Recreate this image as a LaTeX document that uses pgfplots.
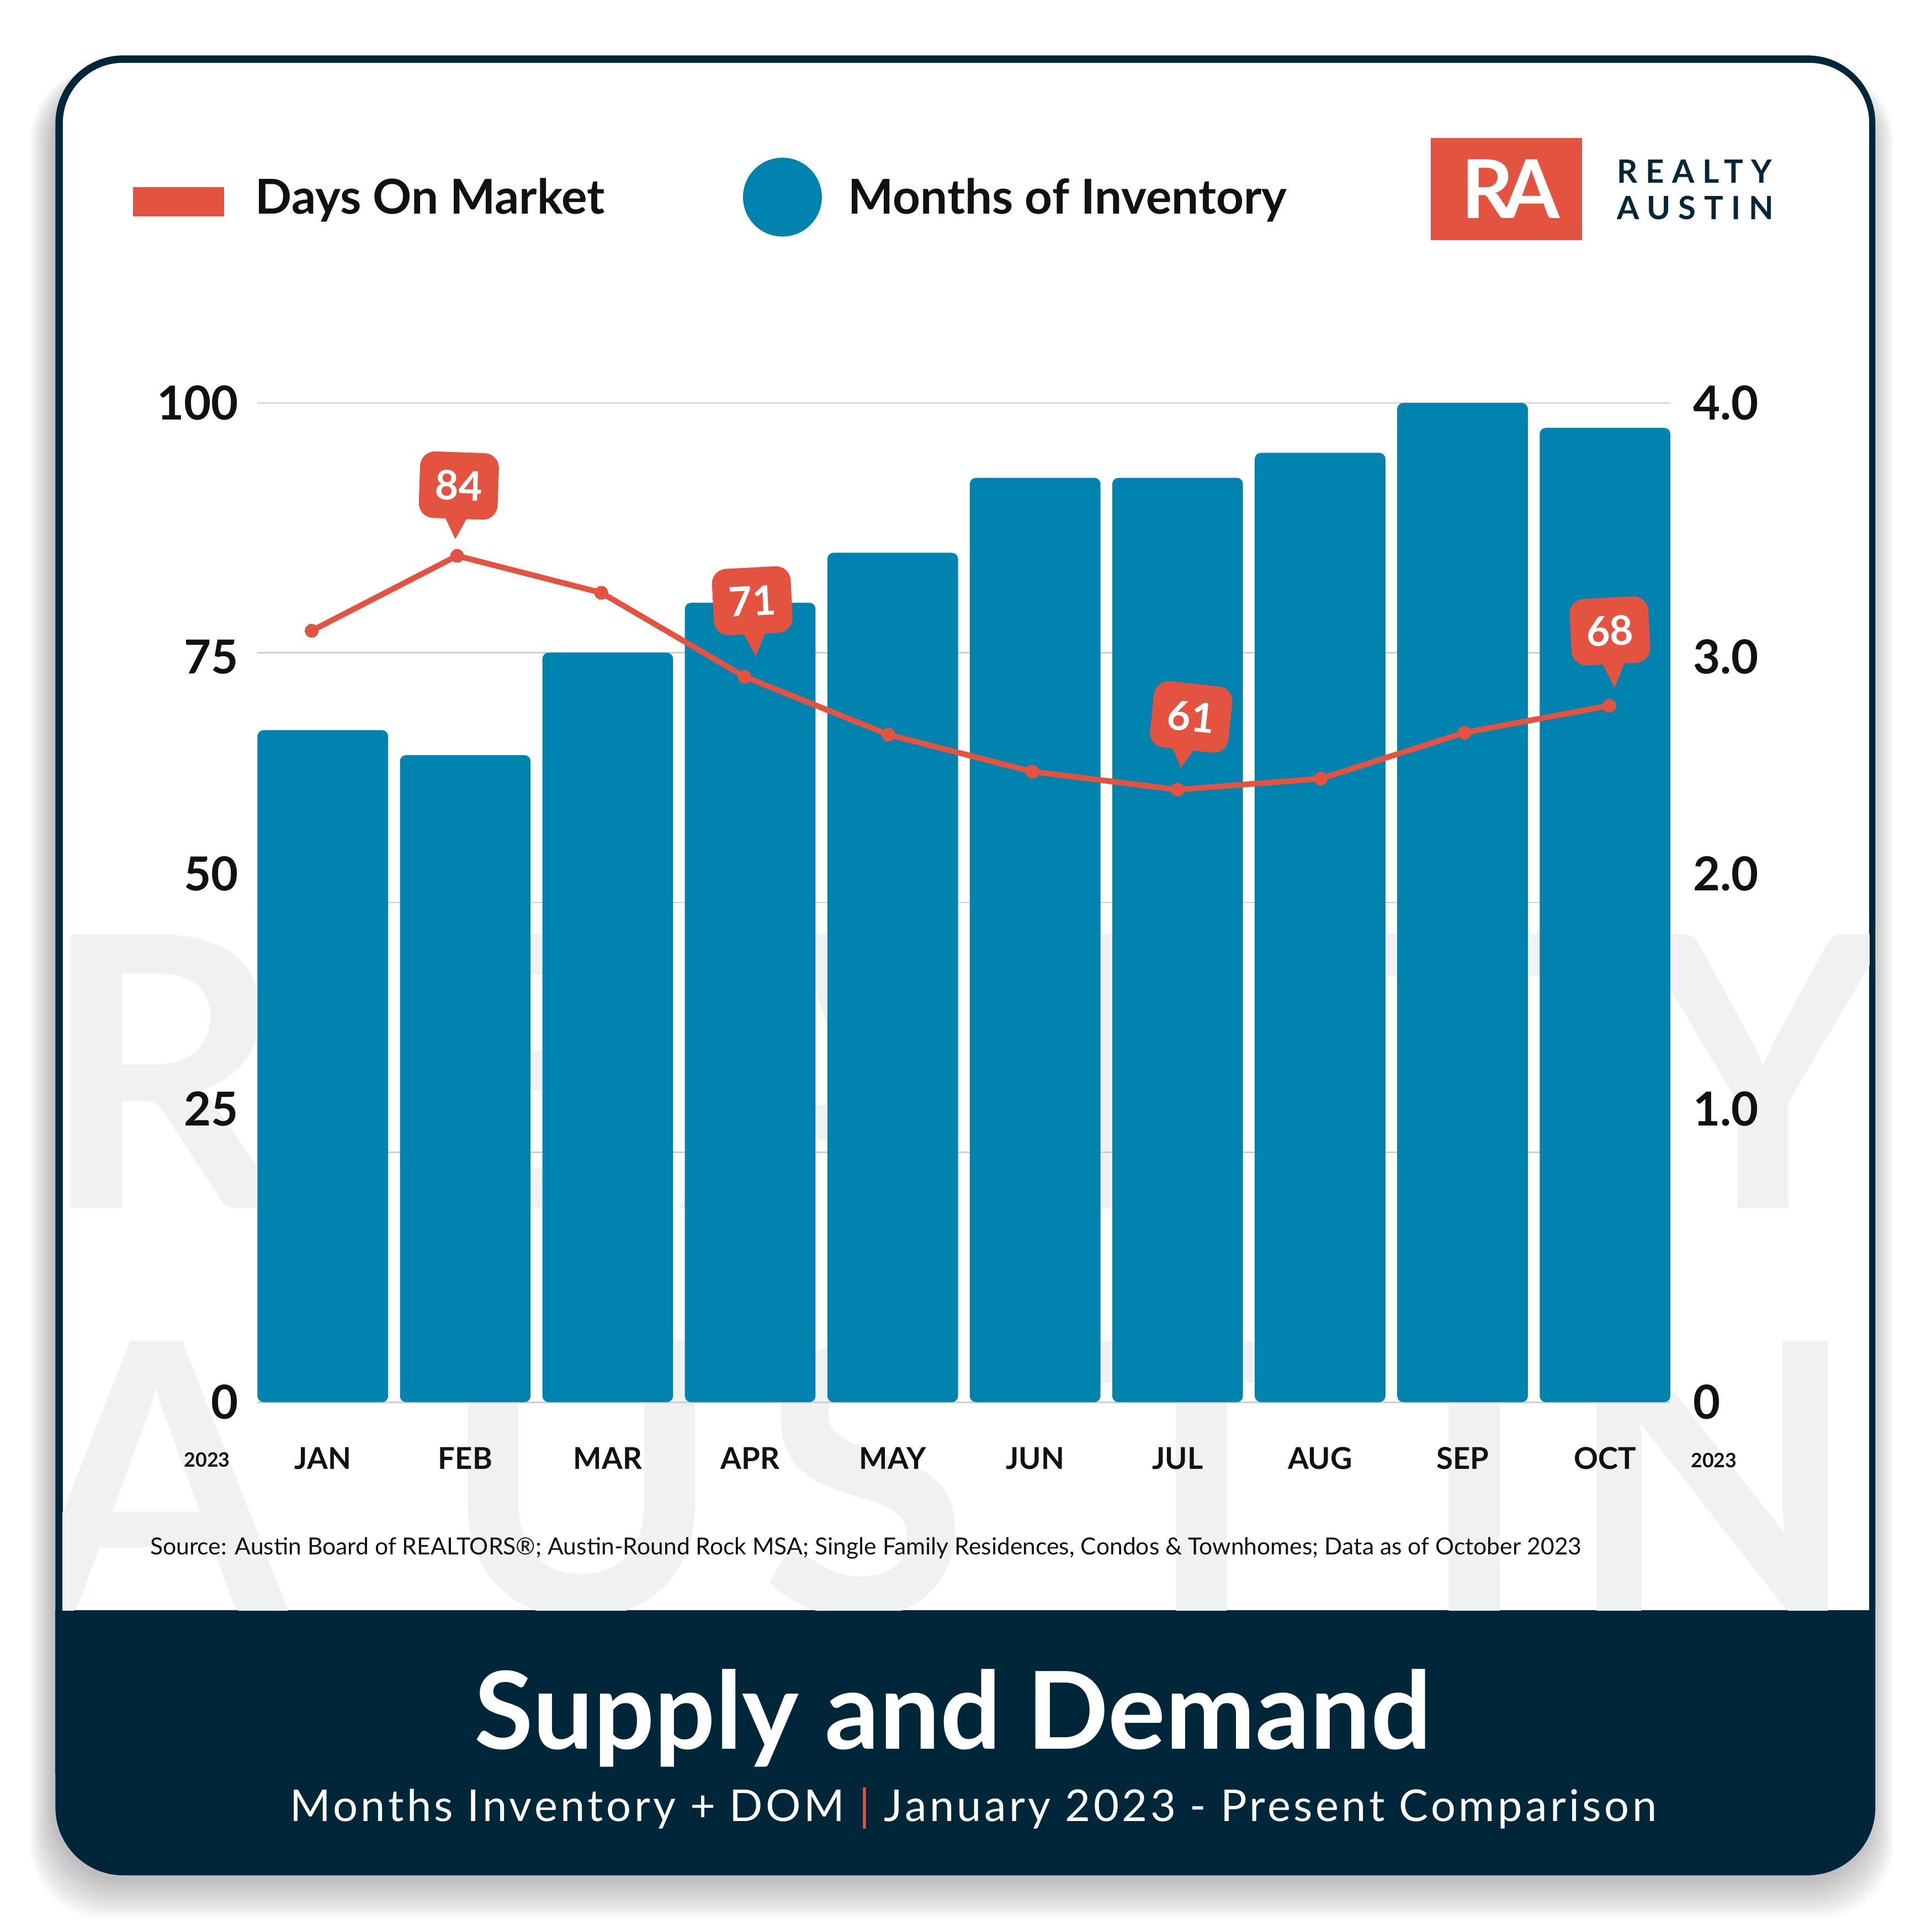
\documentclass[border=0pt]{standalone}
\usepackage{fontspec}
\setmainfont{Lato}
\newfontfamily\spacedfont[LetterSpace=6.8]{Lato}
\newfontfamily\logofont[LetterSpace=25]{Lato}
\usepackage{pgfplots}
\pgfplotsset{compat=1.18}
\usetikzlibrary{calc}
\definecolor{rared}{HTML}{E4533F}
\definecolor{rablue}{HTML}{0083AF}
\definecolor{ranavy}{HTML}{00263A}
\definecolor{wm}{HTML}{F0F1F3}
\definecolor{gridc}{HTML}{CFCFCF}
\definecolor{txt}{HTML}{111111}
\begin{document}
\begin{tikzpicture}
\path[use as bounding box] (0pt,0pt) rectangle (784pt,784pt);
\begin{scope}[x=0.5pt,y=-0.5pt,shift={(0pt,784pt)}]
% shadow
\foreach \i in {0,...,11}{
  \fill[black,opacity=0.025,rounded corners=30pt] ({42-\i*1.6},{60-\i*0.5}) rectangle ({1519+\i*1.6},{1528+\i*2.6});
}
% card
\fill[ranavy,rounded corners=27.5pt] (45,45) rectangle (1522,1522);
\fill[white,rounded corners=24.5pt] (51,51) rectangle (1517,1400);
\fill[ranavy] (45,1307) rectangle (1522,1440);
% watermark
\begin{scope}
\clip (51,51) rectangle (1517,1307);
\foreach \c/\x in {R/132,E/400,A/660,L/918,T/1175,Y/1431}
  \node[anchor=base,inner sep=0pt,text=wm,font=\bfseries\fontsize{154}{154}\selectfont] at (\x,981) {\c};
\foreach \c/\x in {A/127,U/472,S/702,T/975,I/1197,N/1390}
  \node[anchor=base,inner sep=0pt,text=wm,font=\bfseries\fontsize{154}{154}\selectfont] at (\x,1311) {\c};
\end{scope}
% legend
\fill[rared] (108,152) rectangle (182,175.6);
\fill[rablue] (635,160) circle[radius=32];
\node[anchor=base west,inner sep=0pt,text=txt,font=\bfseries\fontsize{19.5}{19.5}\selectfont] at (207,173.6) {Days On Market};
\node[anchor=base west,inner sep=0pt,text=txt,font=\bfseries\fontsize{19.5}{19.5}\selectfont] at (688,173.6) {Months of Inventory};
% logo
\fill[rared] (1161,112) rectangle (1284,195);
\node[anchor=base,inner sep=0pt,text=white,font=\bfseries\fontsize{33}{33}\selectfont] at (1226,177.4) {R\kern-4pt A};
\node[anchor=base west,inner sep=0pt,text=ranavy,font=\logofont\bfseries\fontsize{13}{13}\selectfont] at (1312,148.6) {REALTY};
\node[anchor=base west,inner sep=0pt,text=ranavy,font=\logofont\bfseries\fontsize{13}{13}\selectfont] at (1312,178) {AUSTIN};
% years
\node[anchor=base,inner sep=0pt,text=txt,font=\bfseries\fontsize{8}{8}\selectfont] at (168,1190.5) {2023};
\node[anchor=base,inner sep=0pt,text=txt,font=\bfseries\fontsize{8}{8}\selectfont] at (1391,1191) {2023};
% source
\node[anchor=base west,inner sep=0pt,text=txt,font=\fontsize{9.55}{9.55}\selectfont] at (121.6,1262) {Source: Austin Board of REALTORS®; Austin-Round Rock MSA; Single Family Residences, Condos \& Townhomes; Data as of October 2023};
% title
\node[anchor=base,inner sep=0pt,text=white,font=\bfseries\fontsize{43.6}{43.6}\selectfont] at (773.5,1419.4) {Supply and Demand};
\node[anchor=base,inner sep=0pt,text=white,font=\spacedfont\fontsize{17.8}{17.8}\selectfont] at (790,1478) {Months Inventory + DOM {\color{rared}|} January 2023 - Present Comparison};
\end{scope}
% bars axis
\begin{axis}[at={(104.4pt,215pt)}, anchor=south west, width=573.5pt, height=405.5pt, scale only axis,
  xmin=-0.46, xmax=9.46, ymin=0, ymax=4,
  axis x line*=bottom, axis y line*=right, axis line style={draw=none}, tick style={draw=none},
  xtick={0,...,9}, xticklabels={JAN,FEB,MAR,APR,MAY,JUN,JUL,AUG,SEP,OCT},
  xticklabel style={anchor=base, inner sep=0pt, yshift=-27.25pt, text=txt, font=\bfseries\fontsize{12.2}{12}\selectfont},
  ytick={0,1.174,2.116,2.984,4}, yticklabels={0,1.0,2.0,3.0,4.0},
  yticklabel style={anchor=west, inner sep=0pt, xshift=9pt, text=txt, font=\bfseries\fontsize{19}{19}\selectfont},
  extra y ticks={0,1,2,3,4}, extra y tick labels={},
  extra y tick style={grid=major},
  major grid style={gridc, line width=0.6pt},
  clip=false]
\addplot[ybar, bar width=0.917, fill=rablue, draw=none, rounded corners=2.5pt] coordinates {(0,2.69) (1,2.59) (2,3.0) (3,3.2) (4,3.4) (5,3.7) (6,3.7) (7,3.8) (8,4.0) (9,3.9)};
\end{axis}
% line axis
\begin{axis}[at={(104.4pt,215pt)}, anchor=south west, width=573.5pt, height=405.5pt, scale only axis,
  xmin=-0.46, xmax=9.46, ymin=0, ymax=100,
  axis x line=none, axis y line*=left, axis line style={draw=none}, tick style={draw=none},
  ytick={0,29.35,52.9,74.6,100}, yticklabels={0,25,50,75,100},
  yticklabel style={anchor=east, inner sep=0pt, xshift=-7.5pt, text=txt, font=\bfseries\fontsize{19}{19}\selectfont},
  clip=false]
\addplot[rared, line width=2.3pt, mark=*, mark size=2.7pt, mark options={fill=rared, draw=rared, line width=0pt}] coordinates {(-0.078,77.2) (0.943,84.7) (1.955,81.0) (2.961,72.6) (3.97,66.8) (4.98,63.1) (6.0,61.3) (7.005,62.4) (8.013,67.0) (9.03,69.7)};
\coordinate (c84) at (axis cs:0.943,84.7);
\coordinate (c71) at (axis cs:2.961,72.6);
\coordinate (c61) at (axis cs:6.0,61.3);
\coordinate (c68) at (axis cs:9.03,69.7);
\end{axis}
% callouts
\foreach \n/\t/\r/\dx/\dy/\tx/\ty in {c84/84/-2/1.4/-57/-1.4/43.6, c71/71/3/6.2/-61.6/0.4/45, c61/61/-6/11/-59/-4/42, c68/68/3/0.5/-60.7/1.5/46.6}{
  \begin{scope}[shift={($(\n)+({\dx*0.5pt},{-\dy*0.5pt})$)}, rotate=\r, x=0.5pt, y=-0.5pt]
    \fill[rared] ({\tx-10},24) -- ({\tx+10},24) -- (\tx,\ty) -- cycle;
    \fill[rared, rounded corners=6pt] (-32,-27) rectangle (32,27);
    \node[transform shape, text=white, inner sep=0pt, font=\bfseries\fontsize{16.5}{16.5}\selectfont] at (0,0) {\t};
  \end{scope}
}
\end{tikzpicture}
\end{document}
